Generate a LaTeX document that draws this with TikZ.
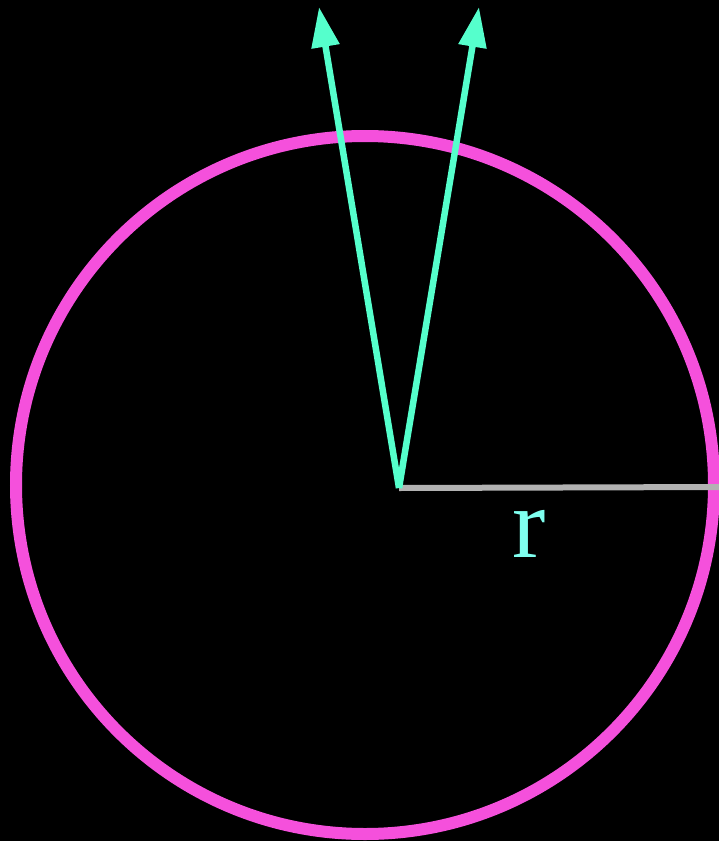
\documentclass[tikz,border=0pt]{standalone}
\usepackage{fontspec}
\setmainfont{Liberation Serif}
\usetikzlibrary{arrows.meta}

\definecolor{ringpink}{RGB}{245,80,220}
\definecolor{vecgreen}{RGB}{85,255,204}
\definecolor{labelcyan}{RGB}{127,255,239}
\definecolor{radgray}{RGB}{178,178,178}

\begin{document}
\begin{tikzpicture}[x=1pt, y=-1pt,
    ring/.style={draw=ringpink, line width=12pt},
    vec/.style={draw=vecgreen, line width=6.5pt, -{Triangle[length=40pt, width=27pt]}},
    radius line/.style={draw=radgray, line width=6pt}]
	\fill[black] (0,0) rectangle (719,841);
	\useasboundingbox (0,0) rectangle (719,841);

	\coordinate (C) at (365,485);
	\coordinate (O) at (399,488);
	\coordinate (L) at (319,7);
	\coordinate (R) at (479,7);
	\coordinate (E) at (722,487);

	\draw[ring] (C) circle (349);

	\draw[radius line] (O) -- (E);
	\draw[vec] (O) -- (L);
	\draw[vec] (O) -- (R);

	\node[text=labelcyan, font=\fontsize{100}{100}\selectfont, anchor=base, inner sep=0pt] (r) at (529,557) {r};
\end{tikzpicture}
\end{document}
